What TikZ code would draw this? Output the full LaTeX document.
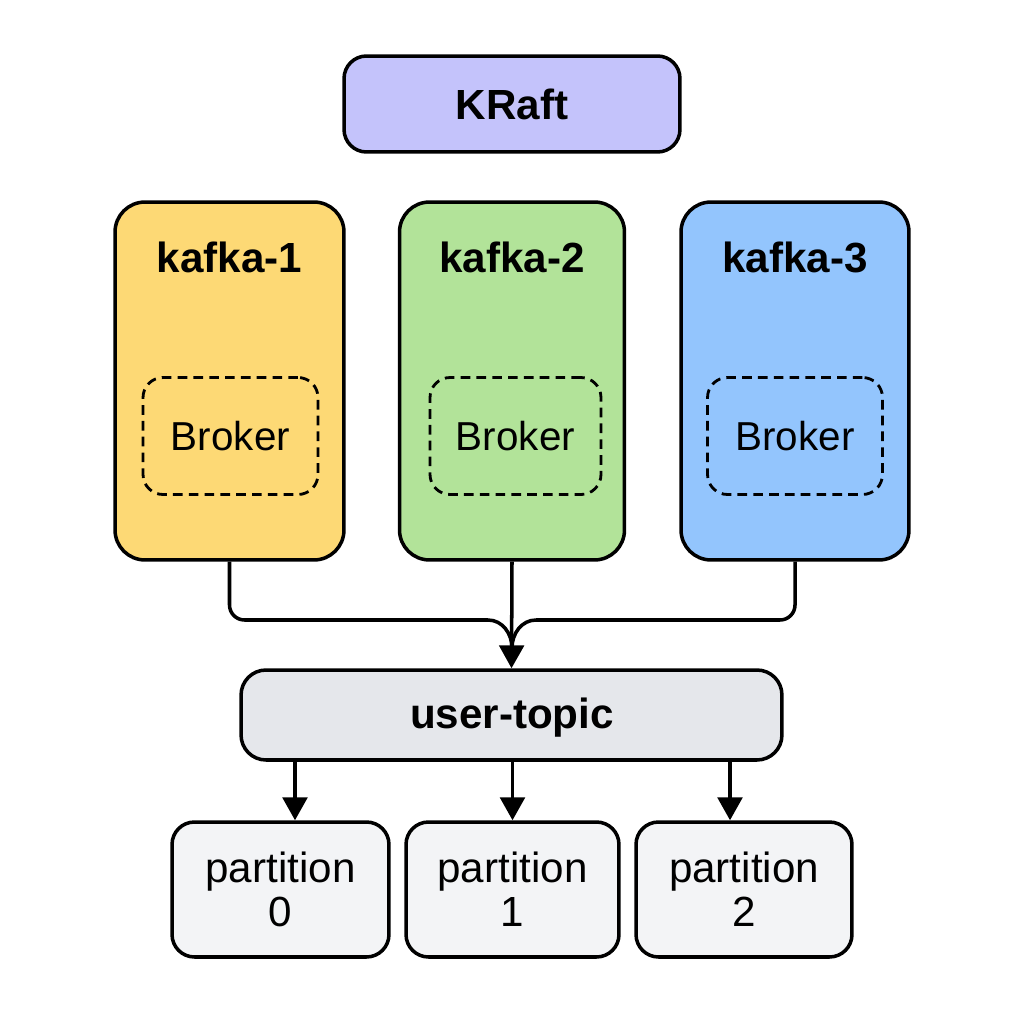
\documentclass[tikz,border=0pt]{standalone}
\usepackage{fontspec}
\setmainfont{Liberation Sans}
\usetikzlibrary{arrows.meta,calc}
\definecolor{kraftc}{HTML}{C4C3FB}
\definecolor{kaf1c}{HTML}{FDD975}
\definecolor{kaf2c}{HTML}{B2E399}
\definecolor{kaf3c}{HTML}{93C5FD}
\definecolor{topicc}{HTML}{E5E7EB}
\definecolor{partc}{HTML}{F3F4F6}
\begin{document}
\begin{tikzpicture}
	[x=0.02cm, y=-0.02cm, line width=2pt, >={Triangle[width=14pt,length=13pt]},
	box/.style={draw, rounded corners=0.45cm, inner sep=0pt},
	server/.style={box, rounded corners=0.6cm, minimum width=4.5cm, minimum height=7.16cm},
	broker/.style={draw, dashed, dash pattern=on 5.5pt off 3.5pt, line width=1.6pt, rounded corners=0.4cm, minimum width=3.5cm, minimum height=2.34cm, font=\fontsize{23}{26}\selectfont},
	part/.style={box, fill=partc, minimum width=4.34cm, minimum height=2.7cm, align=center, font=\fontsize{24}{25}\selectfont},
	title/.style={font=\fontsize{24}{28}\selectfont\bfseries}]
	\useasboundingbox (0,0) rectangle (1024,1024);
	\node[box, title, fill=kraftc, minimum width=6.72cm, minimum height=1.92cm] (kr) at (512,104) {KRaft};
	\node[server, fill=kaf1c, minimum width=4.58cm] (k1) at (229.5,381) {};
	\node[server, fill=kaf2c] (k2) at (512,381) {};
	\node[server, fill=kaf3c, minimum width=4.56cm] (k3) at (795,381) {};
	\node[title] (t1) at (229.5,257) {kafka-1};
	\node[title] (t2) at (512,257) {kafka-2};
	\node[title] (t3) at (795,257) {kafka-3};
	\node[broker] (b1) at (230.5,436) {Broker};
	\node[broker, minimum width=3.42cm] (b2) at (515.5,436) {Broker};
	\node[broker] (b3) at (795,436) {Broker};
	\node[box, title, fill=topicc, rounded corners=0.5cm, minimum width=10.82cm, minimum height=1.8cm] (tp) at (511.5,715) {};
	\node[title] (tt) at (512,718) {user-topic};
	\node[part] (p0) at (280.5,889.5) {partition\\0};
	\node[part, minimum width=4.26cm] (p1) at (512.5,889.5) {partition\\1};
	\node[part, minimum width=4.32cm] (p2) at (744,889.5) {partition\\2};
	\coordinate (m) at (512,620);
	\coordinate (mm) at (512,648);
	\draw[rounded corners=0.3cm] (k1.south) |- ($(m)+(-24,0)$);
	\draw ($(m)+(-24,0)$) to[out=0,in=90] (mm);
	\draw[rounded corners=0.3cm] (k3.south) |- ($(m)+(24,0)$);
	\draw ($(m)+(24,0)$) to[out=180,in=90] (mm);
	\draw[->] (k2.south) -- (tp.north);
	\draw[->] ([xshift=0.29cm]p0.north |- tp.south) -- ([xshift=0.29cm]p0.north);
	\draw[->] (tp.south -| p1.north) -- (p1.north);
	\draw[->] ([xshift=-0.28cm]p2.north |- tp.south) -- ([xshift=-0.28cm]p2.north);
\end{tikzpicture}
\end{document}
